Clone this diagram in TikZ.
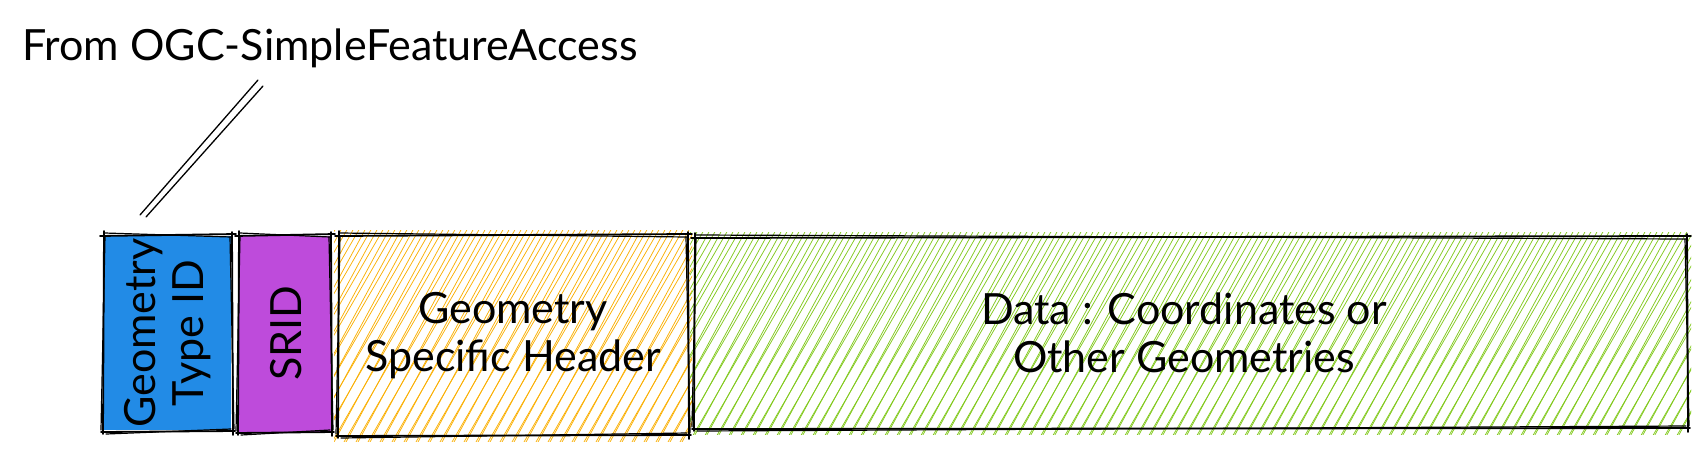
\documentclass[tikz,border=0pt]{standalone}
\usepackage{fontspec}
\setmainfont{Lato}
\definecolor{exblue}{HTML}{228BE6}
\definecolor{expurple}{HTML}{BE4BDB}
\definecolor{exorange}{HTML}{FAB005}
\definecolor{exgreen}{HTML}{82C91E}
\tikzset{
  lbl/.style={font=\fontsize{43}{48}\selectfont, align=center, inner sep=0pt},
  rough/.style={line width=1.8pt, black, line cap=round},
  roughthin/.style={line width=1.2pt, black, line cap=round},
  hatchline/.style={line width=0.75pt, line cap=round},
}
\newcommand\roughrect[4]{%
  \draw[rough] (#1-3,#2+1) -- (#3+4,#2-1);
  \draw[rough] (#3,#2-3) -- (#3+1,#4+4);
  \draw[rough] (#3+3,#4) -- (#1-2,#4+1);
  \draw[rough] (#1,#4+3) -- (#1+1,#2-4);
  \draw[roughthin] (#1+2,#2-2) -- (#3-1,#2+2);
  \draw[roughthin] (#3-2,#2+2) -- (#3+2,#4-2);
  \draw[roughthin] (#3-1,#4-2) -- (#1+3,#4+3);
  \draw[roughthin] (#1-2,#4-1) -- (#1+2,#2+1);
}
\newcommand\hatchrect[5]{%
  \begin{scope}
    \clip (#1-4,#2-5) rectangle (#3+4,#4+6);
    \pgfmathsetmacro\hdx{0.58*(#4-#2)}
    \pgfmathsetmacro\hstart{#1-\hdx-10}
    \pgfmathsetmacro\hnext{\hstart+12}
    \foreach \hx in {\hstart,\hnext,...,#3} {
      \draw[hatchline,#5] (\hx,#4+7) -- ++(\hdx+8,-#4+#2-14);
    }
    \pgfmathsetmacro\hdy{0.54*(#4-#2)}
    \pgfmathsetmacro\hstartb{#1-\hdy-4}
    \pgfmathsetmacro\hnextb{\hstartb+12}
    \foreach \hx in {\hstartb,\hnextb,...,#3} {
      \draw[hatchline,#5] (\hx,#4+7) -- ++(\hdy+8,-#4+#2-14);
    }
  \end{scope}
}
\begin{document}
\begin{tikzpicture}[x=1pt,y=-1pt]
\useasboundingbox (0,0) rectangle (1708,451);
% fills
\fill[exblue] (104,236) rectangle (231,430);
\fill[expurple] (239,236) rectangle (331,432);
\hatchrect{338}{235}{688}{435}{exorange}
\hatchrect{694}{237}{1687}{428}{exgreen}
% borders
\roughrect{103}{235}{232}{431}
\roughrect{238}{235}{331}{432}
\roughrect{338}{235}{688}{435}
\roughrect{694}{237}{1687}{428}
% labels
\node[lbl, rotate=90] (gtype) at (168,333) {Geometry\\Type ID};
\node[lbl, rotate=90] (srid) at (286,333) {SRID};
\node[lbl] (gsh) at (513,336) {Geometry\\Specific Header};
\node[lbl] (data) at (1184,333) {Data : Coordinates or\\Other Geometries};
\node[lbl, anchor=base west] (from) at (22,60) {From OGC-SimpleFeatureAccess};
% double line
\coordinate (la) at (258,80);
\coordinate (lb) at (140,215);
\coordinate (lc) at (263,86);
\coordinate (ld) at (146,217);
\draw[line width=1.3pt, line cap=round] (la) -- (lb);
\draw[line width=1.3pt, line cap=round] (lc) -- (ld);
\end{tikzpicture}
\end{document}
